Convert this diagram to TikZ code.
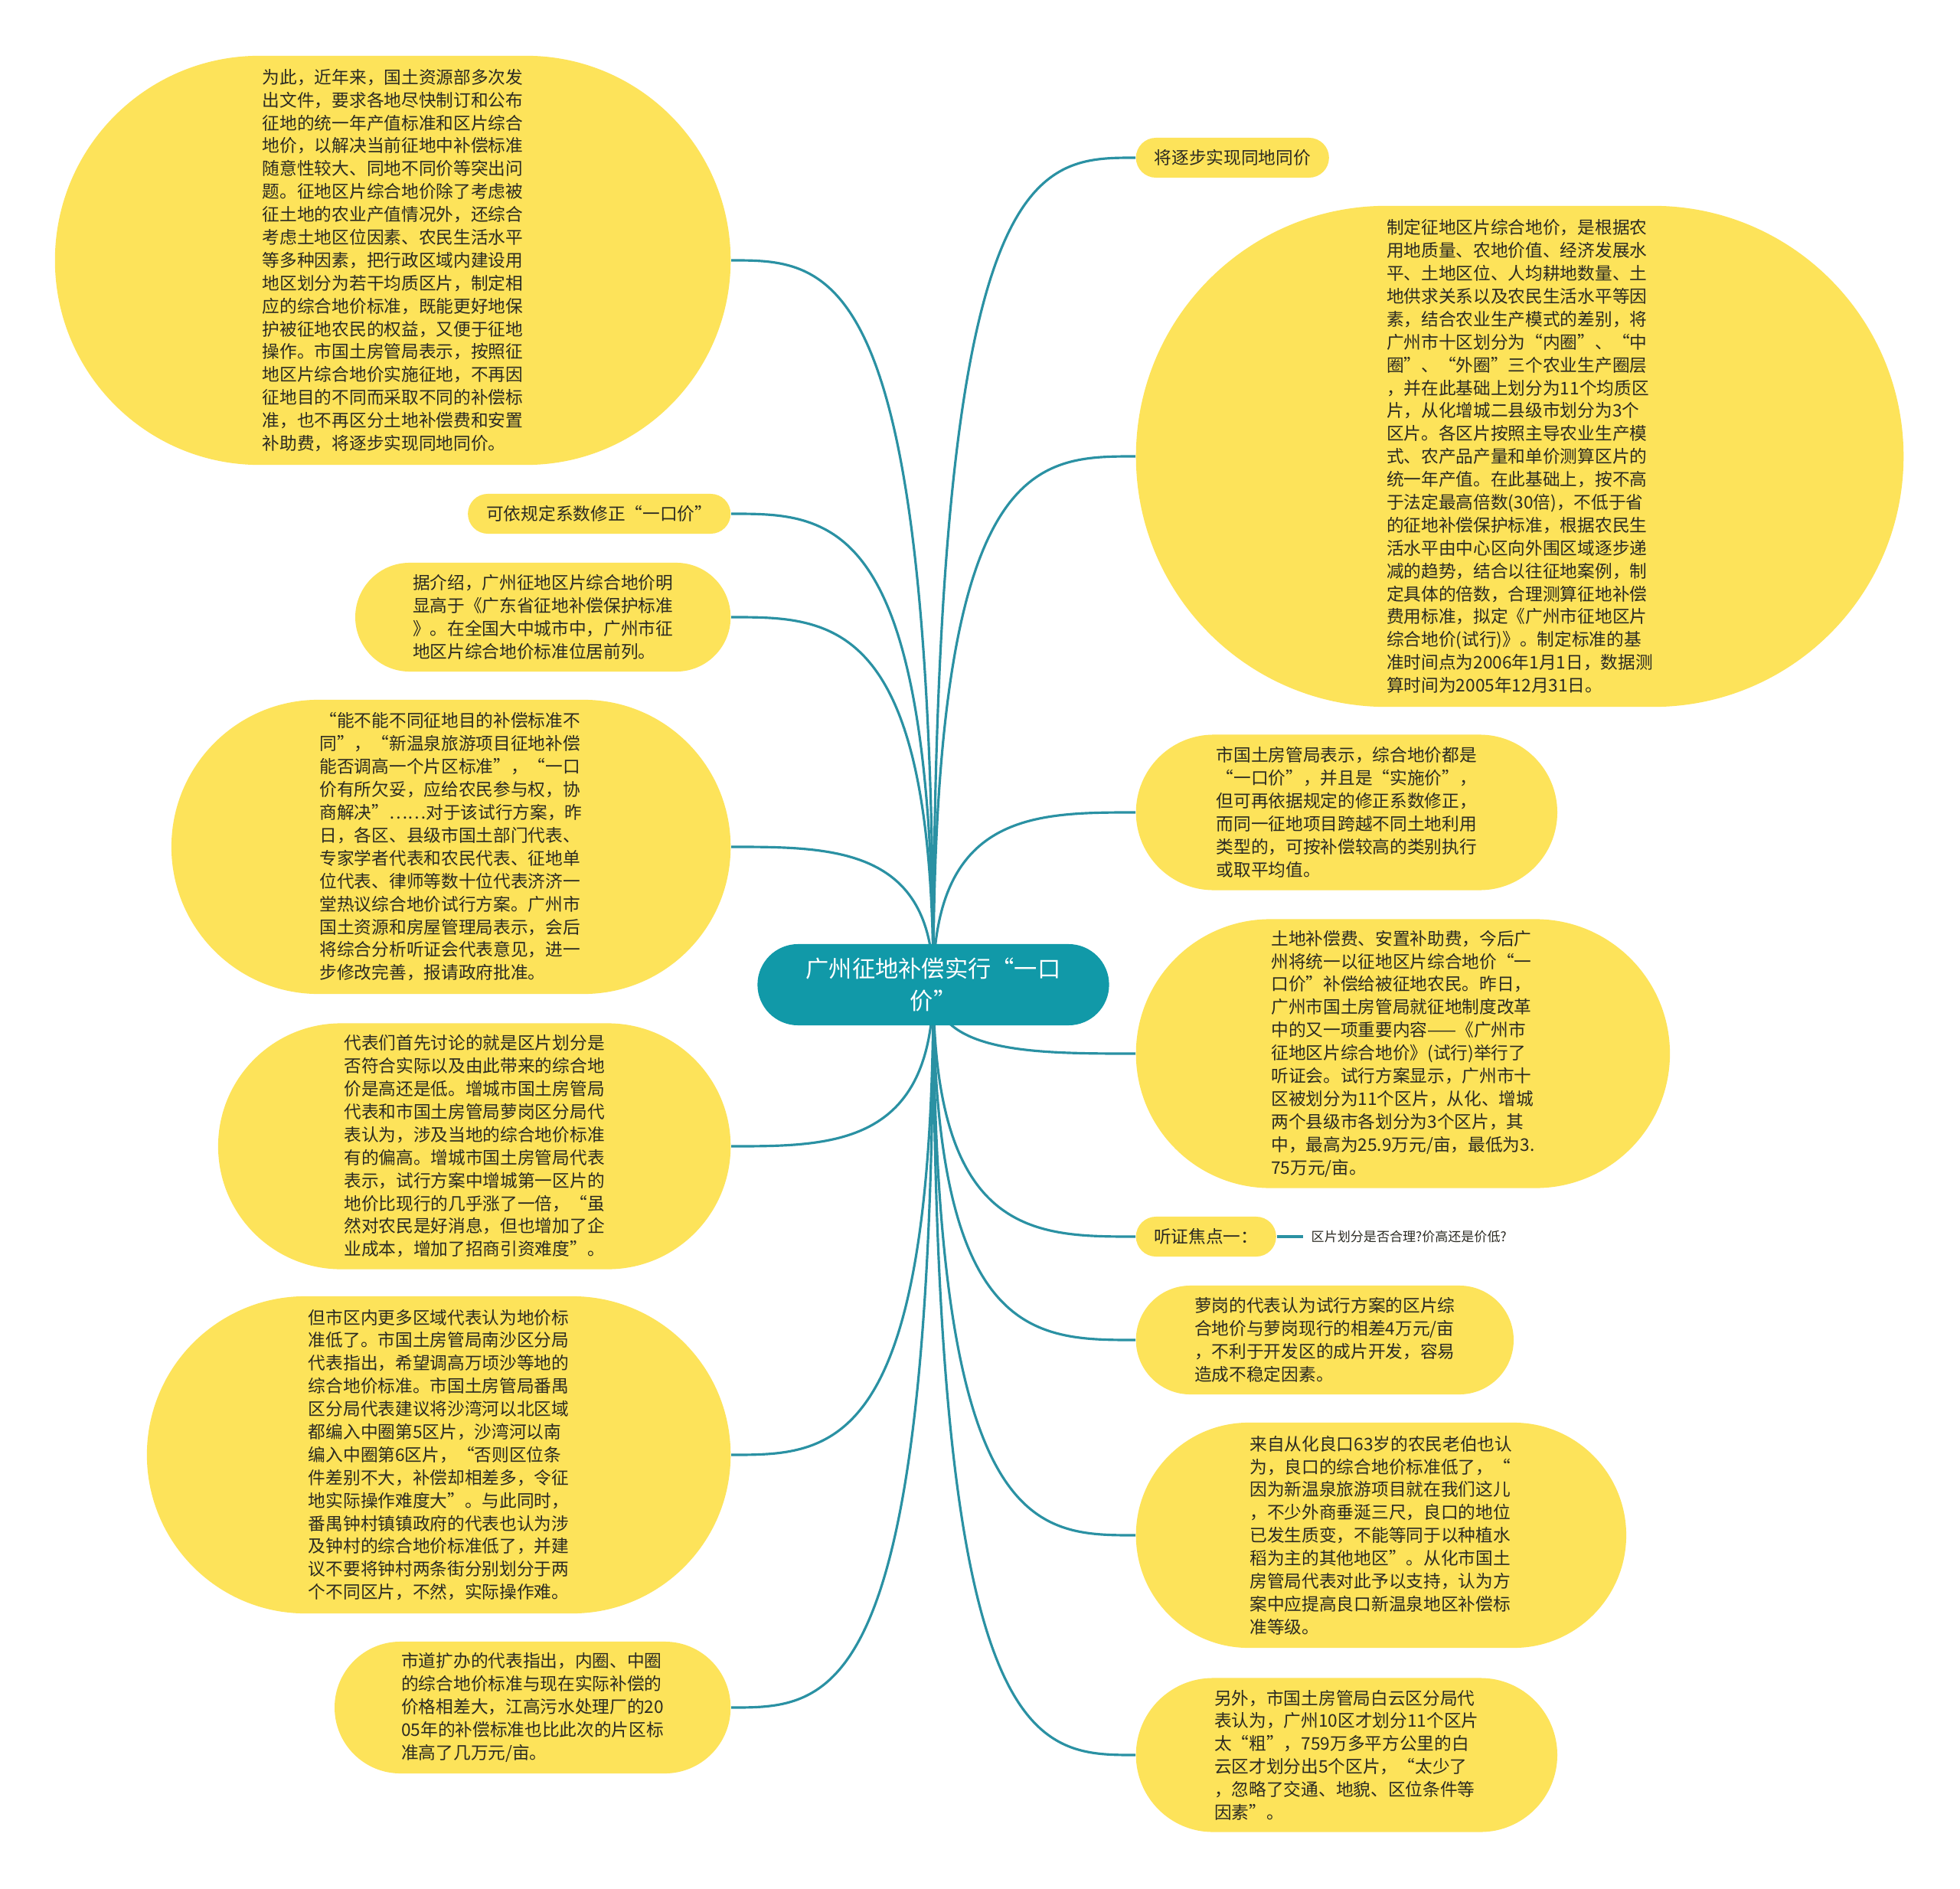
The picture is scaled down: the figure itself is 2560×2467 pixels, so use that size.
\documentclass[tikz,border=0pt]{standalone}
\usepackage{fontspec}
\setmainfont{Noto Sans CJK SC}
\usetikzlibrary{shapes.misc,calc,backgrounds}
\definecolor{pillyellow}{HTML}{FDE35A}
\definecolor{rootteal}{HTML}{1199A8}
\definecolor{branchteal}{HTML}{2A91A3}
\definecolor{inktext}{HTML}{2B2A22}

\begin{document}
\begin{tikzpicture}[x=0.01cm,y=-0.01cm,
  pill/.style={rounded rectangle,fill=pillyellow,inner sep=0pt,align=left,text=inktext,
    font=\fontsize{6.45pt}{8.5pt}\selectfont},
  hub/.style={rounded rectangle,fill=rootteal,inner sep=0pt,align=center,text=white,
    font=\fontsize{8.6pt}{11.7pt}\selectfont},
  branch/.style={draw=branchteal,line width=0.9pt}]
\useasboundingbox (0,0) rectangle (2560,2467);

% centre topic
\node[hub,minimum width=4.59cm,minimum height=1.06cm] (root) at (1219,1286) {广州征地补偿实行“一口\\价”};

% left side
\node[pill,anchor=east,minimum width=8.82cm,minimum height=5.34cm] (l1) at (955,340) {为此，近年来，国土资源部多次发\\出文件，要求各地尽快制订和公布\\征地的统一年产值标准和区片综合\\地价，以解决当前征地中补偿标准\\随意性较大、同地不同价等突出问\\题。征地区片综合地价除了考虑被\\征土地的农业产值情况外，还综合\\考虑土地区位因素、农民生活水平\\等多种因素，把行政区域内建设用\\地区划分为若干均质区片，制定相\\应的综合地价标准，既能更好地保\\护被征地农民的权益，又便于征地\\操作。市国土房管局表示，按照征\\地区片综合地价实施征地，不再因\\征地目的不同而采取不同的补偿标\\准，也不再区分土地补偿费和安置\\补助费，将逐步实现同地同价。};
\node[pill,anchor=east,minimum width=3.43cm,minimum height=0.52cm] (l2) at (955,671) {可依规定系数修正“一口价”};
\node[pill,anchor=east,minimum width=4.90cm,minimum height=1.42cm] (l3) at (955,806) {据介绍，广州征地区片综合地价明\\显高于《广东省征地补偿保护标准\\》。在全国大中城市中，广州市征\\地区片综合地价标准位居前列。};
\node[pill,anchor=east,minimum width=7.30cm,minimum height=3.84cm] (l4) at (955,1106) {“能不能不同征地目的补偿标准不\\同”，“新温泉旅游项目征地补偿\\能否调高一个片区标准”，“一口\\价有所欠妥，应给农民参与权，协\\商解决”……对于该试行方案，昨\\日，各区、县级市国土部门代表、\\专家学者代表和农民代表、征地单\\位代表、律师等数十位代表济济一\\堂热议综合地价试行方案。广州市\\国土资源和房屋管理局表示，会后\\将综合分析听证会代表意见，进一\\步修改完善，报请政府批准。};
\node[pill,anchor=east,minimum width=6.69cm,minimum height=3.21cm] (l5) at (955,1497) {代表们首先讨论的就是区片划分是\\否符合实际以及由此带来的综合地\\价是高还是低。增城市国土房管局\\代表和市国土房管局萝岗区分局代\\表认为，涉及当地的综合地价标准\\有的偏高。增城市国土房管局代表\\表示，试行方案中增城第一区片的\\地价比现行的几乎涨了一倍，“虽\\然对农民是好消息，但也增加了企\\业成本，增加了招商引资难度”。};
\node[pill,anchor=east,minimum width=7.62cm,minimum height=4.14cm] (l6) at (955,1900) {但市区内更多区域代表认为地价标\\准低了。市国土房管局南沙区分局\\代表指出，希望调高万顷沙等地的\\综合地价标准。市国土房管局番禺\\区分局代表建议将沙湾河以北区域\\都编入中圈第5区片，沙湾河以南\\编入中圈第6区片，“否则区位条\\件差别不大，补偿却相差多，令征\\地实际操作难度大”。与此同时，\\番禺钟村镇镇政府的代表也认为涉\\及钟村的综合地价标准低了，并建\\议不要将钟村两条街分别划分于两\\个不同区片，不然，实际操作难。};
\node[pill,anchor=east,minimum width=5.17cm,minimum height=1.72cm] (l7) at (955,2230) {市道扩办的代表指出，内圈、中圈\\的综合地价标准与现在实际补偿的\\价格相差大，江高污水处理厂的20\\05年的补偿标准也比此次的片区标\\准高了几万元/亩。};

% right side
\node[pill,anchor=west,minimum width=2.52cm,minimum height=0.52cm] (r1) at (1483,206) {将逐步实现同地同价};
\node[pill,anchor=west,minimum width=10.02cm,minimum height=6.54cm] (r2) at (1483,596) {制定征地区片综合地价，是根据农\\用地质量、农地价值、经济发展水\\平、土地区位、人均耕地数量、土\\地供求关系以及农民生活水平等因\\素，结合农业生产模式的差别，将\\广州市十区划分为“内圈”、“中\\圈”、“外圈”三个农业生产圈层\\，并在此基础上划分为11个均质区\\片，从化增城二县级市划分为3个\\区片。各区片按照主导农业生产模\\式、农产品产量和单价测算区片的\\统一年产值。在此基础上，按不高\\于法定最高倍数(30倍)，不低于省\\的征地补偿保护标准，根据农民生\\活水平由中心区向外围区域逐步递\\减的趋势，结合以往征地案例，制\\定具体的倍数，合理测算征地补偿\\费用标准，拟定《广州市征地区片\\综合地价(试行)》。制定标准的基\\准时间点为2006年1月1日，数据测\\算时间为2005年12月31日。};
\node[pill,anchor=west,minimum width=5.50cm,minimum height=2.03cm] (r3) at (1483,1061) {市国土房管局表示，综合地价都是\\“一口价”，并且是“实施价”，\\但可再依据规定的修正系数修正，\\而同一征地项目跨越不同土地利用\\类型的，可按补偿较高的类别执行\\或取平均值。};
\node[pill,anchor=west,minimum width=6.97cm,minimum height=3.51cm] (r4) at (1483,1376) {土地补偿费、安置补助费，今后广\\州将统一以征地区片综合地价“一\\口价”补偿给被征地农民。昨日，\\广州市国土房管局就征地制度改革\\中的又一项重要内容——《广州市\\征地区片综合地价》(试行)举行了\\听证会。试行方案显示，广州市十\\区被划分为11个区片，从化、增城\\两个县级市各划分为3个区片，其\\中，最高为25.9万元/亩，最低为3.\\75万元/亩。};
\node[pill,anchor=west,minimum width=1.83cm,minimum height=0.52cm] (r5) at (1483,1615) {听证焦点一：};
\node[anchor=west,inner sep=0.1cm,text=inktext,font=\fontsize{4.85pt}{6pt}\selectfont] (q1) at (1702,1615) {区片划分是否合理?价高还是价低?};
\node[pill,anchor=west,minimum width=4.93cm,minimum height=1.42cm] (r6) at (1483,1750) {萝岗的代表认为试行方案的区片综\\合地价与萝岗现行的相差4万元/亩\\，不利于开发区的成片开发，容易\\造成不稳定因素。};
\node[pill,anchor=west,minimum width=6.40cm,minimum height=2.94cm] (r7) at (1483,2005) {来自从化良口63岁的农民老伯也认\\为，良口的综合地价标准低了，“\\因为新温泉旅游项目就在我们这儿\\，不少外商垂涎三尺，良口的地位\\已发生质变，不能等同于以种植水\\稻为主的其他地区”。从化市国土\\房管局代表对此予以支持，认为方\\案中应提高良口新温泉地区补偿标\\准等级。};
\node[pill,anchor=west,minimum width=5.50cm,minimum height=2.01cm] (r8) at (1483,2292) {另外，市国土房管局白云区分局代\\表认为，广州10区才划分11个区片\\太“粗”，759万多平方公里的白\\云区才划分出5个区片，“太少了\\，忽略了交通、地貌、区位条件等\\因素”。};

% branches
\begin{scope}[on background layer]
\fill[white] (0,0) rectangle (2560,2467);
\foreach \n in {l1,l2,l3,l4,l5,l6,l7}
  \draw[branch] (root.center) .. controls (root.center |- \n.east) and ($(root.center |- \n.east)!0.5!(\n.east)$) .. (\n.east);
\foreach \n in {r1,r2,r3,r4,r5,r6,r7,r8}
  \draw[branch] (root.center) .. controls (root.center |- \n.west) and ($(root.center |- \n.west)!0.5!(\n.west)$) .. (\n.west);
\draw[branch,line width=1.4pt] (r5.east) -- (q1.west);
\end{scope}
\end{tikzpicture}
\end{document}
